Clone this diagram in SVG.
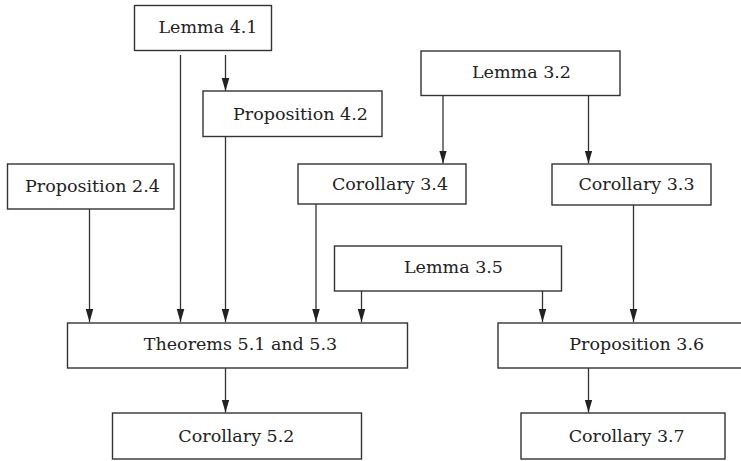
<svg xmlns="http://www.w3.org/2000/svg" width="741" height="461" viewBox="0 0 741 461">
<defs>
<style>
.box{fill:#fff;stroke:#333;stroke-width:1.4}
.lbl{font-family:"DejaVu Serif","Liberation Serif",serif;font-size:17.5px;fill:#222;text-anchor:middle}
.edge{stroke:#333;stroke-width:1.3;fill:none}
.arr{marker-end:url(#ah)}
</style>
<marker id="ah" markerUnits="userSpaceOnUse" markerWidth="14" markerHeight="10" viewBox="0 0 14 10" refX="13" refY="5" orient="auto">
<path d="M0,1.2 L13,5 L0,8.8 Z" fill="#222"/>
</marker>
</defs>
<rect width="741" height="461" fill="#fff"/>
<g id="connectors">
<line class="edge arr" x1="180.5" y1="55" x2="180.5" y2="322"/>
<line class="edge arr" x1="225.5" y1="55" x2="225.5" y2="91"/>
<line class="edge arr" x1="225.5" y1="137" x2="225.5" y2="322"/>
<line class="edge arr" x1="89.5" y1="209" x2="89.5" y2="322"/>
<line class="edge arr" x1="443" y1="95.5" x2="443" y2="163.5"/>
<line class="edge arr" x1="588.5" y1="95.5" x2="588.5" y2="163.5"/>
<line class="edge arr" x1="316" y1="204" x2="316" y2="322"/>
<line class="edge arr" x1="361.5" y1="291" x2="361.5" y2="322"/>
<line class="edge arr" x1="542.5" y1="291" x2="542.5" y2="322"/>
<line class="edge arr" x1="633.5" y1="205" x2="633.5" y2="322"/>
<line class="edge arr" x1="225.5" y1="368" x2="225.5" y2="412.5"/>
<line class="edge arr" x1="588.5" y1="368" x2="588.5" y2="412.5"/>
</g>
<g id="lemma41"><rect class="box" x="134.5" y="5.5" width="137" height="45"/><text class="lbl" x="208" y="33">Lemma 4.1</text></g>
<g id="prop42"><rect class="box" x="203" y="91" width="179" height="45.5"/><text class="lbl" x="300.5" y="119.5">Proposition 4.2</text></g>
<g id="lemma32"><rect class="box" x="421" y="51" width="199" height="44.5"/><text class="lbl" x="521.5" y="78">Lemma 3.2</text></g>
<g id="prop24"><rect class="box" x="7.5" y="164" width="166.5" height="45"/><text class="lbl" x="92.5" y="191.5">Proposition 2.4</text></g>
<g id="cor34"><rect class="box" x="298" y="164" width="168" height="40"/><text class="lbl" x="390" y="190">Corollary 3.4</text></g>
<g id="cor33"><rect class="box" x="552" y="164" width="159" height="41"/><text class="lbl" x="636.5" y="189.5">Corollary 3.3</text></g>
<g id="lemma35"><rect class="box" x="334.5" y="246" width="227" height="45"/><text class="lbl" x="453.5" y="273">Lemma 3.5</text></g>
<g id="thm51"><rect class="box" x="67.5" y="323" width="340" height="45"/><text class="lbl" x="240.5" y="350">Theorems 5.1 and 5.3</text></g>
<g id="prop36"><rect class="box" x="498" y="323" width="260" height="45"/><text class="lbl" x="636.7" y="350">Proposition 3.6</text></g>
<g id="cor52"><rect class="box" x="112.5" y="413" width="249" height="46"/><text class="lbl" x="236.4" y="441.5">Corollary 5.2</text></g>
<g id="cor37"><rect class="box" x="521" y="413" width="204" height="46"/><text class="lbl" x="626.7" y="441.5">Corollary 3.7</text></g>
</svg>
